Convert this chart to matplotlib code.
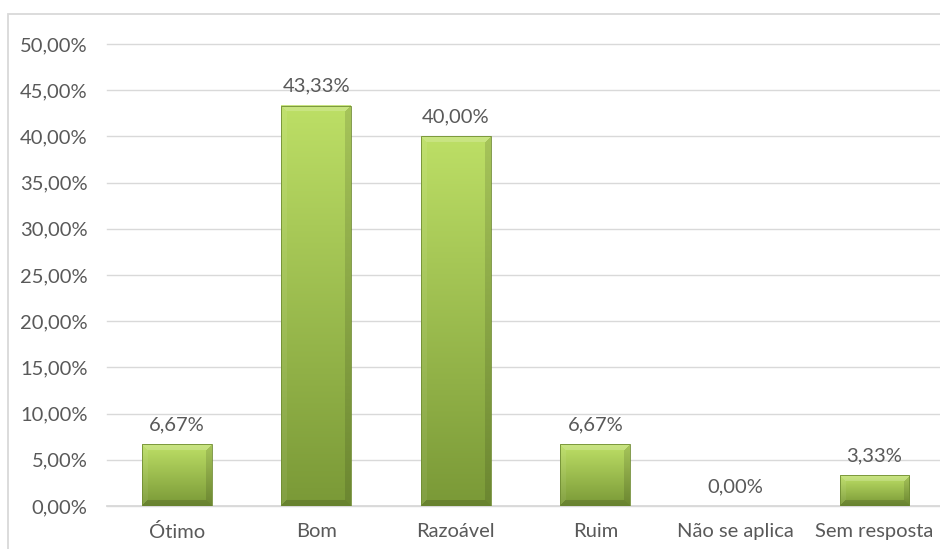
import numpy as np
import matplotlib.pyplot as plt
from matplotlib.colors import to_rgb
from matplotlib.patches import Rectangle

# chart values
categories = ["Ótimo", "Bom", "Razoável", "Ruim", "Não se aplica", "Sem resposta"]
values = [6.67, 43.33, 40.00, 6.67, 0.00, 3.33]
y_ticks = [0, 5, 10, 15, 20, 25, 30, 35, 40, 45, 50]

plt.rcParams['font.family'] = ['Lato', 'DejaVu Sans']
text_col = "#595959"
grid_col = "#d9d9d9"
fsize = 14.5

fig = plt.figure(figsize=(9.4, 5.49), dpi=100)
ax = fig.add_axes([107 / 940, 43 / 549, 1 - 107 / 940, (506 - 44) / 549])

# outer chart border
fig.patches.append(Rectangle((8 / 940, -0.05), 1.1, (549 - 14) / 549 + 0.05,
                             transform=fig.transFigure, fill=False,
                             edgecolor=grid_col, linewidth=1.3, zorder=0))

top_c = np.array(to_rgb("#bddf66"))
bot_c = np.array(to_rgb("#7a9937"))
bar_w = 0.5


def bar_image(h_px, w_px, bev=6):
    t = np.linspace(0, 1, max(h_px, 2))[:, None]
    img = top_c * (1 - t[..., None]) + bot_c * t[..., None]
    img = np.repeat(img, w_px, axis=1)
    yy, xx = np.mgrid[0:img.shape[0], 0:w_px]
    d_top = yy
    d_bot = img.shape[0] - 1 - yy
    d_left = xx
    d_right = w_px - 1 - xx
    dmin = np.minimum.reduce([d_top, d_bot, d_left, d_right])
    edge = dmin < bev
    shade = np.zeros_like(dmin, dtype=float)
    shade[edge & (d_top == dmin)] = 0.18
    shade[edge & (d_left == dmin) & (d_top != dmin)] = 0.06
    shade[edge & (d_right == dmin) & (d_top != dmin)] = -0.12
    shade[edge & (d_bot == dmin)] = -0.15
    out = img + shade[..., None] * np.where(shade[..., None] > 0, 1 - img, img)
    return np.clip(out, 0, 1)


x = np.arange(len(categories))
for xi, v in zip(x, values):
    frac = v / 100
    if frac > 0:
        h_px = int(round(frac / 0.5 * 462))
        ax.imshow(bar_image(h_px, 70), extent=[xi - bar_w / 2, xi + bar_w / 2, 0, frac],
                  aspect='auto', zorder=3, interpolation='bilinear')
        ax.add_patch(Rectangle((xi - bar_w / 2, 0), bar_w, frac, fill=False,
                               edgecolor="#6f8c32", linewidth=0.6, zorder=4))
    label = f"{v:.2f}".replace(".", ",") + "%"
    ax.annotate(label, (xi, frac), xytext=(0, 8), textcoords="offset points",
                ha="center", va="bottom", fontsize=fsize, color=text_col)

ax.set_xlim(-0.5, 5.47)
ax.set_ylim(0, 0.5)
ax.set_xticks(x)
ax.set_xticklabels(categories)
ax.set_yticks([t / 100 for t in y_ticks])
ax.set_yticklabels([f"{t:.2f}".replace(".", ",") + "%" for t in y_ticks])
ax.tick_params(axis="both", length=0, labelsize=fsize, colors=text_col)
ax.tick_params(axis="y", pad=14)
ax.tick_params(axis="x", pad=12.5)
ax.grid(axis="y", color=grid_col, linewidth=1.0, zorder=0)
ax.set_axisbelow(True)
for s in ["top", "right", "left"]:
    ax.spines[s].set_visible(False)
ax.spines["bottom"].set_color(grid_col)
ax.spines["bottom"].set_linewidth(1.3)
for gl in ax.get_ygridlines():
    gl.set_clip_on(False)

fig.savefig("out.png", dpi=100)
